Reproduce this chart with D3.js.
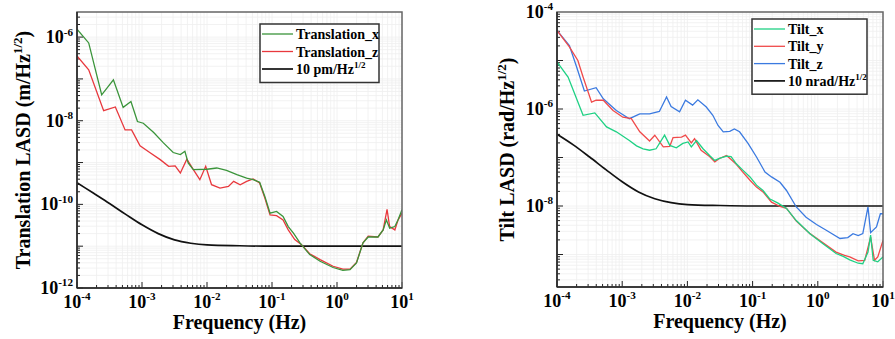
<!DOCTYPE html>
<html>
<head>
<meta charset="utf-8">
<script src="https://cdn.jsdelivr.net/npm/d3@7/dist/d3.min.js"></script>
<style>
  body { margin: 0; background: #fff; }
  text { font-family: "Liberation Serif", "Times New Roman", serif; font-weight: bold; }
</style>
</head>
<body>
<div id="chart"></div>
<script>

// left panel: translation
var transFreq = [-4, -3.82, -3.62, -3.44, -3.29, -3.17, -3.07, -2.98, -2.82, -2.67, -2.52, -2.41, -2.34, -2.29, -2.21,
  -2.0, -1.85, -1.70, -1.54, -1.39, -1.29, -1.19, -1.11, -1.03, -0.93, -0.83, -0.75, -0.67, -0.57, -0.42,
  -0.26, -0.06, 0.09, 0.20, 0.30, 0.40, 0.48, 0.63, 0.71, 0.76, 0.81, 0.89, 0.94, 1.0];
var transX = [-5.81, -6.14, -7.38, -7.02, -7.68, -7.54, -8.02, -8.06, -8.28, -8.53, -8.76, -8.81, -8.73, -9.01, -9.17,
  -9.16, -9.13, -9.19, -9.29, -9.37, -9.41, -9.47, -9.81, -10.21, -10.17, -10.29, -10.53, -10.69, -10.92, -11.20,
  -11.36, -11.51, -11.58, -11.56, -11.40, -10.92, -10.78, -10.78, -10.61, -10.37, -10.57, -10.53, -10.37, -10.13];

var transZFreq = [-4, -3.82, -3.59, -3.41, -3.26, -3.16, -3.03, -2.87, -2.72, -2.59, -2.49, -2.41, -2.31, -2.21, -2.11,
  -2.02, -1.93, -1.80, -1.67, -1.59, -1.49, -1.39, -1.29, -1.19, -1.11, -1.03, -0.93, -0.83, -0.75, -0.65,
  -0.55, -0.42, -0.26, -0.06, 0.09, 0.20, 0.30, 0.40, 0.48, 0.63, 0.71, 0.77, 0.81, 0.89, 0.94, 1.0];
var transZ = [-6.45, -6.78, -7.76, -7.67, -8.22, -8.22, -8.60, -8.77, -8.93, -9.09, -9.08, -9.25, -8.92, -9.17, -9.41,
  -9.09, -9.53, -9.61, -9.57, -9.45, -9.53, -9.45, -9.39, -9.49, -9.85, -10.25, -10.27, -10.37, -10.61, -10.84,
  -10.96, -11.18, -11.32, -11.48, -11.55, -11.55, -11.39, -10.92, -10.76, -10.78, -10.61, -10.12, -10.53, -10.61, -10.37, -10.21];

// requirement curves (same shape in both panels)
var reqFreq = [-4, -3.75, -3.5, -3.25, -3, -2.75, -2.5, -2.25, -2, -1.5, -1, 0, 1];
var reqTrans = [-9.48, -9.73, -9.98, -10.24, -10.49, -10.70, -10.85, -10.93, -10.97, -10.99, -11, -11, -11];
var reqTilt = [-6.52, -6.74, -6.99, -7.25, -7.50, -7.71, -7.85, -7.93, -7.97, -7.99, -8, -8, -8];

// right panel: tilt
var tiltXFreq = [-4, -3.83, -3.60, -3.42, -3.24, -3.09, -2.89, -2.78, -2.68, -2.58, -2.48, -2.35, -2.27, -2.17, -2.07,
  -1.99, -1.94, -1.86, -1.76, -1.66, -1.58, -1.51, -1.40, -1.33, -1.25, -1.15, -1.04, -0.94, -0.84, -0.74,
  -0.61, -0.48, -0.33, -0.12, 0.08, 0.28, 0.39, 0.49, 0.62, 0.69, 0.77, 0.81, 0.85, 0.92, 1.0];
var tiltX = [-5.03, -5.34, -6.13, -6.08, -6.37, -6.47, -6.65, -6.76, -6.82, -6.85, -6.82, -6.54, -6.75, -6.80, -6.71,
  -6.68, -6.78, -6.65, -6.82, -6.96, -7.06, -7.02, -6.97, -6.98, -7.13, -7.26, -7.40, -7.57, -7.68, -7.85,
  -7.94, -8.05, -8.30, -8.57, -8.78, -8.98, -9.04, -9.11, -9.18, -9.19, -8.95, -8.60, -9.12, -9.15, -9.05];

var tiltYFreq = [-4, -3.81, -3.68, -3.60, -3.47, -3.40, -3.29, -3.14, -2.99, -2.86, -2.73, -2.58, -2.50, -2.37, -2.27,
  -2.22, -2.09, -2.03, -1.94, -1.89, -1.79, -1.66, -1.58, -1.51, -1.40, -1.33, -1.25, -1.15, -1.04, -0.94,
  -0.84, -0.71, -0.58, -0.48, -0.33, -0.12, 0.08, 0.28, 0.41, 0.49, 0.62, 0.72, 0.81, 0.87, 0.92, 1.0];
var tiltY = [-4.38, -4.72, -5.00, -5.34, -5.86, -5.82, -5.82, -6.03, -6.17, -6.20, -6.47, -6.66, -6.54, -6.78, -6.77,
  -6.59, -6.58, -6.54, -6.70, -6.61, -6.85, -6.98, -7.09, -7.02, -6.96, -7.04, -7.14, -7.30, -7.47, -7.61,
  -7.71, -7.92, -8.01, -8.05, -8.31, -8.57, -8.76, -8.95, -9.02, -9.05, -9.13, -9.12, -8.64, -9.12, -9.05, -8.71];

var tiltZFreq = [-4, -3.81, -3.70, -3.58, -3.40, -3.29, -3.09, -2.89, -2.73, -2.58, -2.43, -2.32, -2.25, -2.12, -2.03,
  -1.92, -1.84, -1.71, -1.61, -1.53, -1.45, -1.35, -1.28, -1.20, -1.07, -0.94, -0.81, -0.71, -0.58, -0.48,
  -0.33, -0.18, -0.02, 0.13, 0.34, 0.46, 0.54, 0.62, 0.69, 0.77, 0.81, 0.90, 0.96, 1.0];
var tiltZ = [-4.38, -4.69, -5.13, -5.63, -5.56, -5.79, -6.03, -6.20, -6.10, -6.10, -6.05, -5.75, -5.95, -6.06, -5.82,
  -5.92, -5.81, -5.96, -6.13, -6.34, -6.47, -6.46, -6.41, -6.47, -6.71, -6.99, -7.30, -7.40, -7.51, -7.68,
  -8.02, -8.23, -8.38, -8.50, -8.67, -8.65, -8.57, -8.61, -8.57, -8.02, -8.55, -8.43, -8.16, -8.16];

var xTickExps = [-4, -3, -2, -1, 0, 1];
var transYTickExps = [-6, -8, -10, -12];
var tiltYTickExps = [-4, -6, -8];

var svg = d3.select("#chart").append("svg")
  .attr("width", 895)
  .attr("height", 339);

function pairs(fr, vals) {
  return fr.map(function (f, i) { return [Math.pow(10, f), Math.pow(10, vals[i])]; });
}

// power-of-ten label with superscript
function powLabel(sel, exp, size) {
  sel.append("tspan").text("10");
  sel.append("tspan")
    .attr("dy", -size * 0.42)
    .attr("font-size", size * 0.62)
    .text(exp);
}

function panel(opt) {
  var x = d3.scaleLog().domain([1e-4, 10]).range([opt.left, opt.right]);
  var y = d3.scaleLog().domain(opt.yDomain).range([opt.bottom, opt.top]);
  var g = svg.append("g");

  // minor + major grid
  var xt = [], yt = [];
  for (var e = -4; e < 1; e++) for (var m = 1; m < 10; m++) xt.push(m * Math.pow(10, e));
  xt.push(10);
  var ylo = Math.floor(Math.log10(opt.yDomain[0])), yhi = Math.ceil(Math.log10(opt.yDomain[1]));
  for (var e2 = ylo; e2 < yhi; e2++) for (var m2 = 1; m2 < 10; m2++) {
    var v = m2 * Math.pow(10, e2);
    if (v >= opt.yDomain[0] && v <= opt.yDomain[1]) yt.push(v);
  }

  g.append("g").selectAll("line").data(xt).enter().append("line")
    .attr("x1", x).attr("x2", x)
    .attr("y1", opt.top).attr("y2", opt.bottom)
    .attr("stroke", "#efefef").attr("stroke-width", 0.8);
  g.append("g").selectAll("line").data(yt).enter().append("line")
    .attr("y1", y).attr("y2", y)
    .attr("x1", opt.left).attr("x2", opt.right)
    .attr("stroke", "#efefef").attr("stroke-width", 0.8);

  // ticks (inward)
  g.append("g").selectAll("line").data(xt).enter().append("line")
    .attr("x1", x).attr("x2", x)
    .attr("y1", opt.bottom)
    .attr("y2", function (d) { return opt.bottom - (Math.abs(Math.log10(d) % 1) < 1e-9 ? 6 : 3); })
    .attr("stroke", "#222").attr("stroke-width", 1);
  g.append("g").selectAll("line").data(yt).enter().append("line")
    .attr("y1", y).attr("y2", y)
    .attr("x1", opt.left)
    .attr("x2", function (d) { return opt.left + (Math.abs(Math.log10(d) % 1) < 1e-9 ? 6 : 3); })
    .attr("stroke", "#222").attr("stroke-width", 1);

  // curves
  var line = d3.line()
    .x(function (d) { return x(d[0]); })
    .y(function (d) { return y(d[1]); });
  var clip = "clip" + opt.id;
  svg.append("clipPath").attr("id", clip).append("rect")
    .attr("x", opt.left).attr("y", opt.top)
    .attr("width", opt.right - opt.left).attr("height", opt.bottom - opt.top);

  var cg = g.append("g").attr("clip-path", "url(#" + clip + ")");
  cg.append("path")
    .datum(pairs(reqFreq, opt.req))
    .attr("d", line.curve(d3.curveMonotoneX))
    .attr("fill", "none").attr("stroke", "#111").attr("stroke-width", 1.7);
  line.curve(d3.curveLinear);
  opt.series.slice().reverse().forEach(function (s) {
    cg.append("path")
      .datum(pairs(s.f, s.v))
      .attr("d", line)
      .attr("fill", "none").attr("stroke", s.color).attr("stroke-width", 1.3);
  });

  // frame
  g.append("rect")
    .attr("x", opt.left).attr("y", opt.top)
    .attr("width", opt.right - opt.left).attr("height", opt.bottom - opt.top)
    .attr("fill", "none").attr("stroke", "#666").attr("stroke-width", 1.5);
  g.append("line")
    .attr("x1", opt.left).attr("x2", opt.left).attr("y1", opt.top).attr("y2", opt.bottom)
    .attr("stroke", "#222").attr("stroke-width", 1.5);
  g.append("line")
    .attr("x1", opt.left).attr("x2", opt.right).attr("y1", opt.bottom).attr("y2", opt.bottom)
    .attr("stroke", "#222").attr("stroke-width", 1.5);

  // tick labels
  xTickExps.forEach(function (e) {
    var t = g.append("text")
      .attr("x", x(Math.pow(10, e))).attr("y", opt.bottom + 20)
      .attr("text-anchor", "middle").attr("font-size", 18);
    powLabel(t, e, 18);
  });
  opt.yTicks.forEach(function (e) {
    var t = g.append("text")
      .attr("x", opt.left - 4).attr("y", y(Math.pow(10, e)) + 6)
      .attr("text-anchor", "end").attr("font-size", 18);
    powLabel(t, e, 18);
  });

  // axis titles
  g.append("text")
    .attr("x", (opt.left + opt.right) / 2).attr("y", opt.bottom + 41)
    .attr("text-anchor", "middle").attr("font-size", 20)
    .text("Frequency (Hz)");
  var yt2 = g.append("text")
    .attr("transform", "translate(" + opt.titleX + "," + ((opt.top + opt.bottom) / 2) + ") rotate(-90)")
    .attr("text-anchor", "middle").attr("font-size", 20);
  yt2.append("tspan").text(opt.yTitle);
  yt2.append("tspan").attr("dy", -8).attr("font-size", 13).text("1/2");
  yt2.append("tspan").attr("dy", 8).text(")");

  // legend
  var lg = g.append("g").attr("transform", "translate(" + opt.legend[0] + "," + opt.legend[1] + ")");
  var items = opt.series.concat([{ name: opt.reqName, color: "#111" }]);
  lg.append("rect")
    .attr("width", opt.legendW).attr("height", items.length * opt.legendStep + 6)
    .attr("fill", "#fff").attr("stroke", "#333").attr("stroke-width", 1.5);
  items.forEach(function (s, i) {
    var cy = 10 + i * opt.legendStep;
    lg.append("line")
      .attr("x1", 2).attr("x2", 33).attr("y1", cy).attr("y2", cy)
      .attr("stroke", s.color).attr("stroke-width", s.name === opt.reqName ? 1.7 : 1.3);
    var t = lg.append("text")
      .attr("x", 36).attr("y", cy + 5).attr("font-size", 14);
    if (s.name === opt.reqName) {
      t.append("tspan").text(s.name);
      t.append("tspan").attr("dy", -6).attr("font-size", 9).text("1/2");
    } else {
      t.text(s.name);
    }
  });
}

panel({
  id: "a", left: 77, right: 402, top: 12, bottom: 288,
  yDomain: [1e-12, Math.pow(10, -5.4)],
  yTicks: transYTickExps,
  req: reqTrans, reqName: "10 pm/Hz",
  titleX: 30, yTitle: "Translation LASD (m/Hz",
  legend: [260, 24], legendW: 119, legendStep: 17.5,
  series: [
    { name: "Translation_x", f: transFreq, v: transX, color: "#3a943a" },
    { name: "Translation_z", f: transZFreq, v: transZ, color: "#e8383d" }
  ]
});

panel({
  id: "b", left: 557, right: 883, top: 12, bottom: 287,
  yDomain: [Math.pow(10, -9.67), 1e-4],
  yTicks: tiltYTickExps,
  req: reqTilt, reqName: "10 nrad/Hz",
  titleX: 514, yTitle: "Tilt LASD (rad/Hz",
  legend: [752, 19], legendW: 115, legendStep: 17.3,
  series: [
    { name: "Tilt_x", f: tiltXFreq, v: tiltX, color: "#1fd184" },
    { name: "Tilt_y", f: tiltYFreq, v: tiltY, color: "#f04a4a" },
    { name: "Tilt_z", f: tiltZFreq, v: tiltZ, color: "#3b7ae0" }
  ]
});
</script>
</body>
</html>
